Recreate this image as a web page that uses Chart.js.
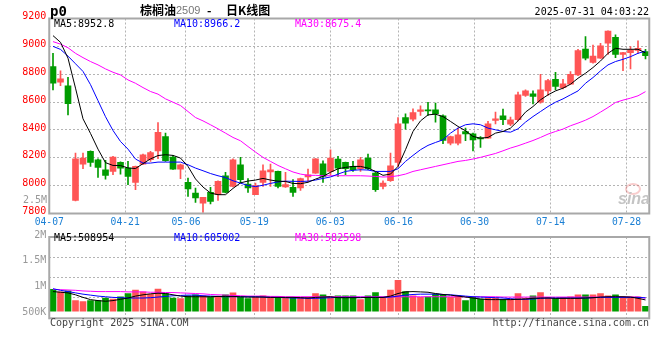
<!DOCTYPE html>
<html>
<head>
<meta charset="utf-8">
<script src="https://cdn.jsdelivr.net/npm/chart.js@4"></script>
<style>
body{margin:0;background:#fff;width:660px;height:360px;position:relative;overflow:hidden;font-family:"DejaVu Sans Mono",monospace}
canvas{position:absolute;left:0}
#pc{top:0}
#vc{top:228px}
.t{position:absolute;white-space:nowrap;font-size:10px;line-height:12px}
.g{font-size:10px;color:#999}
.cjk{font-family:"Noto Sans CJK SC",sans-serif;font-size:12px;line-height:14px;font-weight:bold;top:3px}
</style>
</head>
<body>
<canvas id="pc" width="660" height="232"></canvas>
<canvas id="vc" width="660" height="100"></canvas>

<div class="t" style="left:50px;top:3px;font-size:14px;line-height:16px;font-weight:bold">p0</div>
<div class="t cjk" style="left:140px">棕榈油</div>
<div class="t" style="left:176px;top:4px;font-family:'Liberation Sans',sans-serif;font-size:11px;color:#777">2509</div>
<div class="t cjk" style="left:207px">-</div>
<div class="t cjk" style="left:226px">日K线图</div>
<div class="t" style="right:11px;top:6px">2025-07-31 04:03:22</div>

<div class="t" style="left:54px;top:18px;color:#000">MA5:8952.8</div>
<div class="t" style="left:174px;top:18px;color:#0000ff">MA10:8966.2</div>
<div class="t" style="left:295px;top:18px;color:#ff00ff">MA30:8675.4</div>
<div class="t g" style="right:613px;top:194px">2.5M</div>
<div class="t" style="left:625px;top:183px;width:12px;height:8px;border:2px solid rgba(235,90,90,0.3);border-radius:50%"></div>
<div class="t" style="left:618px;top:190px;font:italic bold 16px 'Liberation Sans',sans-serif;color:#c4c4c4">sina</div>

<div class="t" style="left:54px;top:232px;color:#000">MA5:508954</div>
<div class="t" style="left:174px;top:232px;color:#0000ff">MA10:605002</div>
<div class="t" style="left:295px;top:232px;color:#ff00ff">MA30:582598</div>

<div class="t" style="left:50px;top:317px;color:#444">Copyright 2025 SINA.COM</div>
<div class="t" style="right:11px;top:317px;color:#444">http://finance.sina.com.cn</div>

<script>
// trading days 04-07 .. 07-31
const dates=[
"04-07","04-08","04-09","04-10","04-11","04-14","04-15","04-16","04-17","04-18",
"04-21","04-22","04-23","04-24","04-25","04-28","04-29","04-30",
"05-06","05-07","05-08","05-09","05-12","05-13","05-14","05-15","05-16",
"05-19","05-20","05-21","05-22","05-23","05-26","05-27","05-28","05-29","05-30",
"06-03","06-04","06-05","06-06","06-09","06-10","06-11","06-12","06-13",
"06-16","06-17","06-18","06-19","06-20","06-23","06-24","06-25","06-26","06-27",
"06-30","07-01","07-02","07-03","07-04","07-07","07-08","07-09","07-10","07-11",
"07-14","07-15","07-16","07-17","07-18","07-21","07-22","07-23","07-24","07-25",
"07-28","07-29","07-30","07-31"]

const xLabelDates=["04-07","04-21","05-06","05-19","06-03","06-16","06-30","07-14","07-28"]

const open=[8855,8742,8716,7894,8155,8246,8186,8114,8102,8167,
8126,8023,8155,8186,8250,8353,8205,8119,8023,7947,
7875,7952,7935,8071,7995,8150,8012,7935,8023,8098,
8102,7990,7988,7983,8062,8090,8157,8102,8191,8167,
8138,8121,8198,8090,7995,8035,8167,8489,8477,8532,
8544,8544,8501,8305,8305,8389,8372,8341,8341,8468,
8501,8442,8473,8647,8659,8599,8680,8764,8704,8728,
8795,8981,8884,8915,9022,9065,8943,8955,8970,8962]
const high=[8950,8824,8778,8234,8234,8250,8193,8181,8210,8171,
8174,8140,8227,8246,8453,8377,8217,8155,8054,7983,
7916,7988,8035,8095,8193,8203,8050,8019,8150,8155,
8104,8095,8043,8054,8119,8195,8179,8258,8210,8170,
8174,8203,8227,8098,8035,8234,8489,8516,8551,8573,
8599,8592,8508,8355,8413,8413,8377,8353,8461,8528,
8549,8492,8671,8688,8680,8800,8764,8814,8764,8819,
8979,9070,9010,9022,9112,9082,8957,8998,9039,8979]
const low=[8688,8718,8508,7890,8121,8138,8059,8047,8078,8083,
8007,7971,8150,8174,8193,8174,8117,8050,7923,7880,
7808,7868,7894,7947,7990,8019,7952,7935,7995,7995,
7983,7988,7923,7966,8031,8088,8023,8078,8066,8078,
8102,8102,8114,7959,7976,8031,8138,8406,8465,8504,
8504,8456,8301,8293,8293,8322,8250,8274,8340,8444,
8437,8430,8465,8640,8587,8592,8647,8688,8695,8728,
8790,8903,8880,8914,8943,8919,8826,8838,8950,8910]
const close=[8735,8766,8588,8193,8198,8167,8131,8074,8205,8126,
8066,8138,8222,8238,8382,8179,8119,8150,7976,7911,
7916,7887,8031,7952,8186,8043,7983,8000,8107,8114,
7995,8007,7952,8050,8078,8193,8066,8198,8126,8121,
8114,8186,8121,7971,8019,8143,8444,8449,8525,8544,
8537,8516,8324,8353,8365,8372,8329,8336,8444,8480,
8473,8473,8652,8680,8640,8688,8755,8712,8731,8800,
8970,8915,8931,9003,9110,8943,8955,8974,8986,8934]

const ma5=[9077,9029,8915,8700,8480,8375,8262,8165,8145,8144,
8127,8123,8158,8192,8216,8222,8217,8198,8138,8048,
7990,7947,7935,7935,7980,8020,8033,8040,8052,8040,
8032,8030,8016,8014,8024,8047,8066,8096,8121,8131,
8138,8138,8126,8102,8074,8083,8138,8258,8389,8465,
8508,8513,8496,8461,8425,8394,8353,8341,8346,8377,
8389,8413,8465,8528,8568,8616,8652,8680,8700,8728,
8771,8807,8848,8895,8950,8986,8979,8979,8979,8953]
const ma10=[9000,8978,8930,8875,8820,8725,8610,8495,8396,8317,
8262,8191,8162,8162,8169,8169,8169,8169,8150,8126,
8107,8087,8071,8058,8035,8018,8001,7993,8003,8016,
8027,8032,8031,8030,8032,8040,8052,8062,8083,8102,
8110,8114,8112,8102,8102,8102,8121,8174,8217,8258,
8289,8310,8329,8377,8413,8437,8444,8437,8413,8401,
8389,8384,8408,8456,8496,8532,8568,8599,8623,8652,
8680,8735,8776,8824,8867,8891,8907,8926,8950,8966]
const ma30=[9034,9016,8990,8950,8919,8891,8867,8838,8814,8795,
8759,8735,8704,8676,8657,8623,8599,8575,8532,8489,
8465,8437,8408,8377,8346,8322,8281,8241,8203,8174,
8145,8121,8098,8083,8074,8074,8071,8071,8071,8071,
8071,8071,8069,8066,8062,8064,8071,8083,8102,8114,
8126,8138,8150,8162,8174,8181,8191,8203,8217,8231,
8250,8270,8286,8305,8324,8346,8370,8389,8406,8430,
8449,8470,8496,8528,8561,8597,8614,8628,8645,8675]

// volume, thousands
const vol=[986,870,913,478,435,478,478,594,551,652,
797,957,870,768,1000,797,594,565,696,739,
696,652,652,739,826,623,565,652,696,652,
623,623,594,623,623,797,739,652,696,696,
696,522,696,841,623,957,1391,884,696,623,
652,768,739,623,696,478,623,551,580,594,
522,551,797,594,696,841,623,580,623,652,
739,739,739,797,696,739,652,652,652,217]
const volMa5=[884,855,826,739,623,522,478,449,478,536,
594,681,739,783,812,797,739,681,652,652,
652,652,667,667,667,652,638,638,638,623,
623,623,623,609,594,623,638,652,609,609,
609,609,623,623,623,681,797,870,884,870,
855,797,754,725,681,638,594,551,522,522,
522,522,536,551,580,594,594,580,580,580,
580,594,609,638,652,652,652,638,580,509]
const volMa10=[1014,942,884,826,768,725,681,652,623,609,
594,594,594,609,638,667,696,710,725,725,
696,681,667,652,652,652,652,652,638,623,
623,609,594,594,580,580,594,609,623,623,
623,623,623,623,623,638,681,725,754,768,
768,768,754,739,710,681,652,638,623,609,
594,565,536,536,551,580,594,594,594,594,
594,594,609,623,623,623,623,623,623,605]
const volMa30=[986,971,957,942,913,899,884,884,884,884,
870,870,870,855,855,841,841,826,812,797,
783,754,739,725,710,696,681,681,681,667,
667,652,652,652,652,652,652,652,652,652,
652,652,652,652,652,652,652,652,652,652,
652,652,652,652,652,652,652,652,652,652,
638,638,638,638,638,638,638,638,638,638,
638,638,638,638,638,638,638,638,638,583]

const volTickValues=[500,1000,1500,2000]
const volTickText=["500K","1M","1.5M","2M"]

const UP="#ff5555", DOWN="#009c00"
const GRID="#b4b4b4"
const candleColor=close.map((c,i)=>c>=open[i]?UP:DOWN)
const labelIdx=xLabelDates.map(d=>dates.indexOf(d))

const frame={
id:"frame",
afterDraw(chart){
const a=chart.chartArea, c=chart.ctx
c.save()
c.strokeStyle="#a8a8a8"
c.lineWidth=2
c.strokeRect(a.left,a.top,a.right-a.left,a.bottom-a.top)
c.restore()
}
}

function line(data,color){
return {type:"line",data:data,borderColor:color,borderWidth:1,pointRadius:0,tension:0,order:0,xAxisID:"x"}
}

const gridX=(showLabels,h)=>({
type:"linear",position:"bottom",min:0,max:dates.length-1,offset:false,
afterBuildTicks:s=>{s.ticks=labelIdx.map(v=>({value:v}))},
afterFit:s=>{s.height=h},
grid:{color:GRID,drawTicks:false,offset:false},
border:{display:false,dash:[2,2]},
ticks:{display:showLabels,autoSkip:false,maxRotation:0,padding:3,color:"#1a7fd4",
font:{family:"DejaVu Sans Mono",size:9.7},callback:v=>dates[v]}
})

Chart.defaults.animation=false

new Chart(document.getElementById("pc"),{
type:"bar",
data:{
labels:dates,
datasets:[
{data:low.map((l,i)=>[l,high[i]]),backgroundColor:candleColor,barThickness:1,grouped:false,order:2},
{data:open.map((o,i)=>[o,close[i]]),backgroundColor:candleColor,barThickness:6,minBarLength:1,grouped:false,order:1},
line(ma5,"#000000"),
line(ma10,"#0000ff"),
line(ma30,"#ff00ff")
]
},
options:{
responsive:false,
layout:{padding:{top:18.5,right:10.75,left:0,bottom:0}},
plugins:{legend:{display:false},tooltip:{enabled:false}},
scales:{
x:{type:"category",display:false,offset:true},
xg:gridX(true,18.5),
y:{min:7800,max:9200,
afterFit:s=>{s.width=49.25},
grid:{color:GRID,drawTicks:false},
border:{display:false,dash:[2,2]},
ticks:{stepSize:200,padding:3,labelOffset:-2,color:"#ff0000",font:{family:"DejaVu Sans Mono",size:10},
callback:v=>String(v)}}
}
},
plugins:[frame]
})

new Chart(document.getElementById("vc"),{
type:"bar",
data:{
labels:dates,
datasets:[
{data:vol,backgroundColor:candleColor,barThickness:6,grouped:false,order:1,yAxisID:"y"},
line(volMa5,"#000000"),
line(volMa10,"#0000ff"),
line(volMa30,"#ff00ff")
]
},
options:{
responsive:false,
layout:{padding:{top:6,right:10.75,left:0,bottom:9.7}},
plugins:{legend:{display:false},tooltip:{enabled:false}},
scales:{
x:{type:"category",display:false,offset:true},
xg:gridX(false,0),
y:{min:-320,max:3345,position:"left",
afterBuildTicks:s=>{s.ticks=[0,1,2,3,4].map(k=>({value:s.min+k*(s.max-s.min)/4}))},
afterFit:s=>{s.width=0},
grid:{color:GRID,drawTicks:false},
border:{display:false,dash:[2,2]},
ticks:{display:false}},
yl:{min:430,max:2000,position:"left",
afterBuildTicks:s=>{s.ticks=volTickValues.map(v=>({value:v}))},
afterFit:s=>{s.width=49.25},
grid:{display:false,drawTicks:false},
border:{display:false},
ticks:{padding:3,labelOffset:-2,color:"#999",font:{family:"DejaVu Sans Mono",size:10},
callback:v=>volTickText[volTickValues.indexOf(v)]}}
}
},
plugins:[frame]
})
</script>
</body>
</html>
